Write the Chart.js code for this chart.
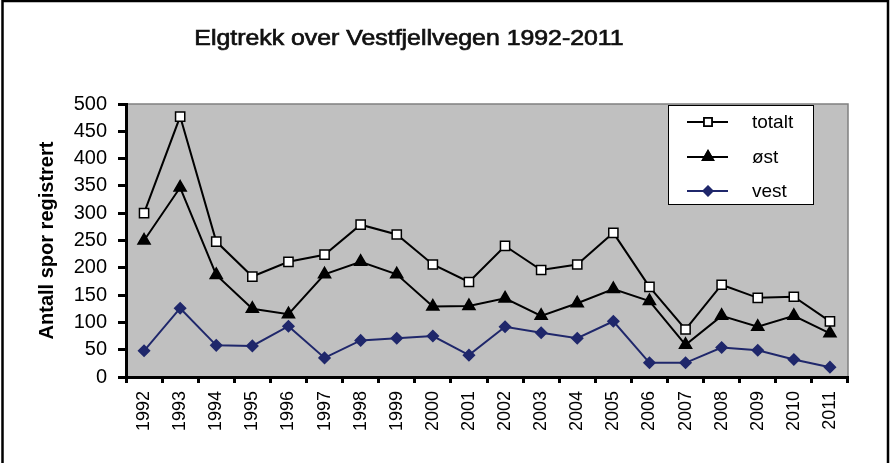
<!DOCTYPE html>
<html lang="no">
<head>
<meta charset="UTF-8">
<title>Elgtrekk over Vestfjellvegen 1992-2011</title>
<style>
  html, body { margin: 0; padding: 0; background: #fff; }
  #wrap { width: 891px; height: 463px; }
</style>
</head>
<body>
<div id="wrap"><canvas id="grafikk" width="891" height="463"></canvas></div>
<script src="https://cdn.jsdelivr.net/npm/chart.js@4/dist/chart.umd.min.js"></script>
<script>
// data lest av figuren
const aar = ['1992','1993','1994','1995','1996','1997','1998','1999','2000','2001',
             '2002','2003','2004','2005','2006','2007','2008','2009','2010','2011'];
const totalt = [300, 477, 248, 184, 211, 224, 279, 261, 206, 174, 240, 196, 206, 264, 165, 87, 169, 145, 147, 102];
const ost    = [250, 347, 187, 125, 115, 188, 211, 188, 129, 130, 144, 112, 135, 161, 139, 59, 112, 92, 112, 80];
const vest   = [48, 126, 58, 57, 93, 35, 67, 71, 75, 40, 92, 81, 71, 102, 26, 26, 54, 49, 32, 18];
const yTicks = [0, 50, 100, 150, 200, 250, 300, 350, 400, 450, 500];

const tittel = 'Elgtrekk over Vestfjellvegen 1992-2011';
const aksetittel = 'Antall spor registrert';
const FONT = 'Arial, "Liberation Sans", sans-serif';
const NAVY = '#1f276b';

const serier = [
  { navn: 'totalt', data: totalt, farge: '#000', stil: 'rect', fyll: '#fff', r: 6.5 },
  { navn: 'øst', data: ost, farge: '#000', stil: 'triangle', fyll: '#000', r: 7 },
  { navn: 'vest', data: vest, farge: NAVY, stil: 'rectRot', fyll: NAVY, r: 5.5 }
];

// bakgrunn, ramme, tittel og forklaring
const tegnPlugin = {
  id: 'tegn',
  beforeDraw(chart) {
    const c = chart.ctx, a = chart.chartArea;
    c.save();
    c.fillStyle = '#fff';
    c.fillRect(0, 0, chart.width, chart.height);
    c.fillStyle = '#c0c0c0';
    c.fillRect(a.left, a.top, a.right - a.left, a.bottom - a.top);
    c.strokeStyle = '#808080';
    c.lineWidth = 1.5;
    c.beginPath();
    c.moveTo(a.left, a.top);
    c.lineTo(a.right, a.top);
    c.lineTo(a.right, a.bottom);
    c.stroke();
    c.restore();
  },
  afterDraw(chart) {
    const c = chart.ctx;
    c.save();
    // ytre ramme
    c.strokeStyle = '#000';
    c.lineWidth = 2.5;
    c.beginPath();
    c.moveTo(2.5, 470);
    c.lineTo(2.5, 1);
    c.lineTo(888, 1);
    c.lineTo(888, 470);
    c.stroke();
    // tittel, litt strukket i bredden og litt fetere som i originalen
    c.save();
    c.translate(409, 45);
    c.scale(1.13, 1);
    c.fillStyle = '#111';
    c.strokeStyle = '#111';
    c.lineWidth = 0.7;
    c.font = '22px ' + FONT;
    c.textAlign = 'center';
    c.textBaseline = 'alphabetic';
    c.fillText(tittel, 0, 0);
    c.strokeText(tittel, 0, 0);
    c.restore();
    // forklaring
    c.fillStyle = '#fff';
    c.fillRect(668, 105, 146, 100);
    c.strokeStyle = '#000';
    c.lineWidth = 1;
    c.strokeRect(668.5, 105.5, 145, 99);
    const rader = [122, 157, 191];
    serier.forEach((s, i) => {
      const y = rader[i];
      c.strokeStyle = s.farge;
      c.lineWidth = 2;
      c.beginPath();
      c.moveTo(687, y);
      c.lineTo(728, y);
      c.stroke();
      Chart.helpers.drawPoint(c, {
        pointStyle: s.stil, radius: s.r - 1, rotation: 0, borderWidth: 1.5
      }, 708, y);
      c.fillStyle = s.fyll;
      c.strokeStyle = s.farge;
      c.lineWidth = 1.5;
      c.fill();
      c.stroke();
      c.fillStyle = '#000';
      c.font = '19px ' + FONT;
      c.textAlign = 'left';
      c.textBaseline = 'middle';
      c.fillText(s.navn, 752, y + 1);
    });
    c.restore();
  }
};

const ctx = document.getElementById('grafikk').getContext('2d');
const diagram = new Chart(ctx, {
  type: 'line',
  data: {
    labels: aar,
    datasets: serier.map(s => ({
      label: s.navn,
      data: s.data,
      borderColor: s.farge,
      borderWidth: 2,
      pointStyle: s.stil,
      pointRadius: s.r,
      pointBackgroundColor: s.fyll,
      pointBorderColor: s.farge,
      pointBorderWidth: 1.5,
      tension: 0
    }))
  },
  options: {
    responsive: false,
    animation: false,
    events: [],
    layout: { padding: { left: 0, top: 104, right: 43, bottom: 0 } },
    plugins: {
      legend: { display: false },
      title: { display: false },
      tooltip: { enabled: false }
    },
    scales: {
      x: {
        offset: true,
        grid: {
          offset: true,
          drawOnChartArea: false,
          drawTicks: true,
          tickLength: 6,
          tickColor: '#000',
          tickWidth: 3
        },
        border: { color: '#000', width: 3 },
        ticks: {
          color: '#000',
          font: { family: FONT, size: 18 },
          minRotation: 90,
          maxRotation: 90,
          padding: 8,
          autoSkip: false
        },
        afterFit(scale) { scale.height = 86; }
      },
      y: {
        min: 0,
        max: 500,
        afterBuildTicks(scale) { scale.ticks = yTicks.map(v => ({ value: v })); },
        grid: {
          drawOnChartArea: false,
          drawTicks: true,
          tickLength: 8,
          tickColor: '#000',
          tickWidth: 3
        },
        border: { color: '#000', width: 3 },
        ticks: {
          color: '#000',
          font: { family: FONT, size: 20 },
          padding: 11
        },
        title: {
          display: true,
          text: aksetittel,
          color: '#000',
          font: { family: FONT, size: 20, weight: 'bold' },
          padding: { top: 35, bottom: 0 }
        },
        afterFit(scale) { scale.width = 126; }
      }
    }
  },
  plugins: [tegnPlugin]
});
</script>
</body>
</html>
